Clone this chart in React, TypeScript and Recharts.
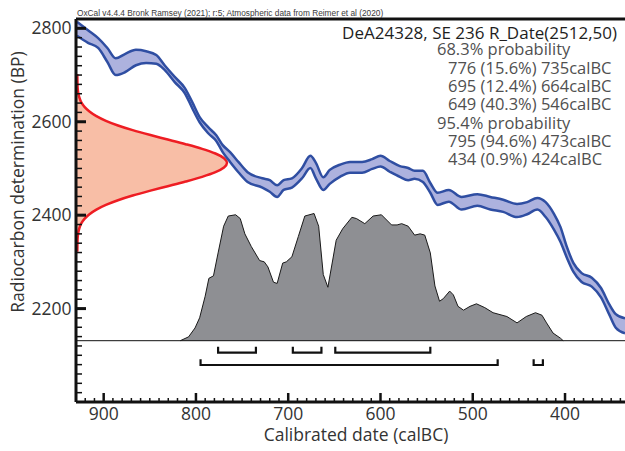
import React from 'react';
import { ComposedChart, Area, Line, XAxis, YAxis, ReferenceLine } from 'recharts';

// ---------- data ----------
// Calibration curve (IntCal20 band), calBC year vs upper / lower BP edge
const calYears = [929, 917, 906, 896, 887, 877, 865, 854, 843, 834, 823, 812, 804, 796, 787, 778, 771, 763, 754, 744, 728, 720, 712, 705, 696, 685, 676, 670, 662, 655, 644, 633, 620, 609, 600, 590, 579, 570, 563, 554, 546, 538, 526, 512, 495, 481, 467, 452, 441, 430, 421, 412, 405, 398, 391, 382, 371, 361, 352, 345, 335];
const curveUpper = [2814, 2796, 2779, 2758, 2736, 2745, 2754, 2751, 2743, 2721, 2696, 2672, 2642, 2610, 2589, 2571, 2550, 2535, 2514, 2492, 2479, 2475, 2464, 2475, 2479, 2501, 2527, 2512, 2481, 2497, 2508, 2514, 2514, 2520, 2527, 2516, 2505, 2501, 2495, 2495, 2469, 2448, 2454, 2439, 2445, 2439, 2433, 2424, 2428, 2437, 2428, 2403, 2375, 2332, 2298, 2276, 2266, 2244, 2209, 2188, 2179];
const curveLower = [2784, 2769, 2758, 2728, 2700, 2706, 2721, 2726, 2724, 2711, 2685, 2661, 2629, 2599, 2576, 2559, 2535, 2514, 2492, 2471, 2459, 2450, 2439, 2454, 2459, 2479, 2501, 2479, 2454, 2467, 2482, 2491, 2491, 2499, 2504, 2493, 2482, 2475, 2478, 2471, 2448, 2422, 2429, 2412, 2420, 2412, 2407, 2396, 2402, 2412, 2396, 2369, 2343, 2309, 2279, 2257, 2247, 2224, 2187, 2159, 2147];

// Calibrated (posterior) probability, relative to max
const postYears = [817, 808, 801, 796, 790, 786, 781, 776, 770, 765, 757, 752, 747, 740, 731, 726, 722, 716, 712, 706, 702, 696, 689, 682, 672, 667, 662, 657, 648, 641, 631, 626, 617, 608, 599, 588, 582, 577, 570, 563, 557, 552, 546, 541, 536, 532, 525, 521, 516, 510, 503, 496, 487, 478, 463, 452, 442, 432, 425, 420, 413, 405, 402];
const postProb = [0, 0.03, 0.10, 0.18, 0.35, 0.49, 0.51, 0.69, 0.90, 0.98, 0.99, 0.96, 0.84, 0.74, 0.63, 0.62, 0.58, 0.46, 0.45, 0.61, 0.62, 0.66, 0.82, 0.98, 1.00, 0.90, 0.52, 0.42, 0.79, 0.88, 0.97, 0.96, 0.92, 0.98, 0.99, 0.91, 0.91, 0.92, 0.90, 0.83, 0.84, 0.83, 0.69, 0.43, 0.31, 0.33, 0.39, 0.36, 0.27, 0.24, 0.27, 0.29, 0.26, 0.22, 0.19, 0.14, 0.19, 0.22, 0.20, 0.14, 0.06, 0.02, 0];

// Radiocarbon determination distribution (drawn along the BP axis), BP vs calBC edge
const rdBP = [2322, 2332, 2342, 2352, 2362, 2372, 2382, 2392, 2402, 2412, 2422, 2432, 2442, 2452, 2462, 2472, 2482, 2492, 2502, 2512, 2522, 2532, 2542, 2552, 2562, 2572, 2582, 2592, 2602, 2612, 2622, 2632, 2642, 2652, 2662, 2672, 2682, 2692, 2702];
const rdYear = [928.6, 928.5, 928.4, 928.2, 927.6, 926.4, 924.4, 920.8, 915.4, 907.9, 897.6, 884.5, 868.6, 850.3, 830.6, 811.2, 793.3, 778.9, 769.6, 766.3, 769.6, 778.9, 793.3, 811.2, 830.6, 850.3, 868.6, 884.5, 897.6, 907.9, 915.4, 920.8, 924.4, 926.4, 927.6, 928.2, 928.4, 928.5, 928.6];

// Calibrated ranges
const range68: [number, number][] = [[776, 735], [695, 664], [649, 546]];
const range95: [number, number][] = [[795, 473], [434, 424]];

// Axis ticks
const xMajorTicks = [900, 800, 700, 600, 500, 400];
const yMajorTicks = [2200, 2400, 2600, 2800];
const xTicks = Array.from({ length: 59 }, (_, i) => 920 - i * 10);
const yTicks = Array.from({ length: 40 }, (_, i) => 2020 + i * 20);

// Texts
const oxcalCaption = 'OxCal v4.4.4 Bronk Ramsey (2021); r:5; Atmospheric data from Reimer et al (2020)';
const sampleTitle = 'DeA24328, SE 236 R_Date(2512,50)';
const probLines = [
  { text: '68.3% probability', indent: false },
  { text: '776 (15.6%) 735calBC', indent: true },
  { text: '695 (12.4%) 664calBC', indent: true },
  { text: '649 (40.3%) 546calBC', indent: true },
  { text: '95.4% probability', indent: false },
  { text: '795 (94.6%) 473calBC', indent: true },
  { text: '434 (0.9%) 424calBC', indent: true },
];
const xTitle = 'Calibrated date (calBC)';
const yTitle = 'Radiocarbon determination (BP)';

// ---------- layout ----------
const W = 625;
const H = 451;
const X_DOMAIN: [number, number] = [335, 930];
const BP_DOMAIN: [number, number] = [2000, 2820];
const P_DOMAIN: [number, number] = [-0.482, 2.529];
const FONT = '"Open Sans", "Noto Sans", sans-serif';

const renderXTick = (props: any) => {
  const { x, y, payload } = props;
  const v = payload.value;
  const major = xMajorTicks.includes(v);
  return (
    <g>
      <line x1={x} x2={x} y1={y} y2={y - (major ? 9 : 4)} stroke="#111" strokeWidth={major ? 2.5 : 1.5} />
      {major && (
        <text x={x} y={y + 18} textAnchor="middle" fontSize={17.5} fontFamily={FONT} fill="#333">
          {v}
        </text>
      )}
    </g>
  );
};

const renderYTick = (props: any) => {
  const { x, y, payload } = props;
  const v = payload.value;
  const major = yMajorTicks.includes(v);
  return (
    <g>
      <line x1={x} x2={x + (major ? 10 : 6)} y1={y} y2={y} stroke="#111" strokeWidth={major ? 3 : 1.5} />
      {major && (
        <text x={x - 4.5} y={y} dy="0.35em" textAnchor="end" fontSize={17.5} fontFamily={FONT} fill="#333">
          {v}
        </text>
      )}
    </g>
  );
};

export default function App() {
  const curveData = calYears.map((yr, i) => ({
    yr,
    hi: curveUpper[i],
    lo: curveLower[i],
    band: [curveLower[i], curveUpper[i]],
  }));
  const postData = postYears.map((yr, i) => ({ yr, p: postProb[i] }));
  const rdData = rdBP.map((bp, i) => ({ bp, yr: rdYear[i] }));

  const bracket = (r: [number, number], bar: number, top: number) => [
    { yr: r[0], v: top },
    { yr: r[0], v: bar },
    { yr: r[1], v: bar },
    { yr: r[1], v: top },
  ];
  const brackets = [
    ...range68.map((r) => bracket(r, -0.094, -0.047)),
    ...range95.map((r) => bracket(r, -0.191, -0.146)),
  ];

  return (
    <div style={{ position: 'absolute', left: 0, top: 0, width: W, height: H, background: '#fff' }}>
      {/* radiocarbon determination distribution on the BP axis */}
      <div style={{ position: 'absolute', left: 0, top: 0 }}>
        <ComposedChart layout="vertical" width={W} height={H} data={rdData} margin={{ top: 19, right: 0, bottom: 49, left: 76 }}>
          <XAxis type="number" domain={X_DOMAIN} reversed hide allowDataOverflow />
          <YAxis type="number" dataKey="bp" domain={BP_DOMAIN} reversed hide allowDataOverflow />
          <Area
            dataKey="yr"
            type="monotone"
            baseValue={930}
            fill="#f8bea6"
            fillOpacity={1}
            stroke="#ee1d23"
            strokeWidth={2.5}
            isAnimationActive={false}
          />
        </ComposedChart>
      </div>

      {/* main chart */}
      <div style={{ position: 'absolute', left: 0, top: 0 }}>
        <ComposedChart width={W} height={H} data={curveData} margin={{ top: 19, right: 0, bottom: 0, left: 0 }}>
          <XAxis
            dataKey="yr"
            type="number"
            domain={X_DOMAIN}
            reversed
            allowDataOverflow
            ticks={xTicks}
            interval={0}
            height={49}
            tickLine={false}
            tickSize={0}
            tickMargin={0}
            axisLine={{ stroke: '#111', strokeWidth: 3 }}
            tick={renderXTick}
          />
          <YAxis
            yAxisId="bp"
            type="number"
            domain={BP_DOMAIN}
            allowDataOverflow
            ticks={yTicks}
            interval={0}
            width={76}
            tickLine={false}
            tickSize={0}
            tickMargin={0}
            axisLine={{ stroke: '#111', strokeWidth: 3 }}
            tick={renderYTick}
          />
          <YAxis yAxisId="p" type="number" domain={P_DOMAIN} allowDataOverflow hide />
          <ReferenceLine yAxisId="bp" y={2820} stroke="#111" strokeWidth={3} />
          <ReferenceLine yAxisId="p" y={0} stroke="#111" strokeWidth={1} />
          <Area
            yAxisId="p"
            data={postData}
            dataKey="p"
            type="linear"
            baseValue={0}
            fill="#8e8f93"
            fillOpacity={1}
            stroke="#1a1a1a"
            strokeWidth={1}
            isAnimationActive={false}
          />
          <Area
            yAxisId="bp"
            dataKey="band"
            type="monotone"
            fill="#adb2de"
            fillOpacity={1}
            stroke="none"
            isAnimationActive={false}
          />
          <Line yAxisId="bp" dataKey="hi" type="monotone" stroke="#2f4ea2" strokeWidth={2.5} dot={false} isAnimationActive={false} />
          <Line yAxisId="bp" dataKey="lo" type="monotone" stroke="#2f4ea2" strokeWidth={2.5} dot={false} isAnimationActive={false} />
          {brackets.map((b, i) => (
            <Line
              key={i}
              yAxisId="p"
              data={b}
              dataKey="v"
              type="linear"
              stroke="#111"
              strokeWidth={2.2}
              dot={false}
              isAnimationActive={false}
            />
          ))}
        </ComposedChart>
      </div>

      {/* texts */}
      <svg width={W} height={H} style={{ position: 'absolute', left: 0, top: 0, pointerEvents: 'none' }}>
        <text x={77} y={16} fontSize={8.3} fontFamily='"Liberation Sans", Arial, sans-serif' fill="#3a3a3a">
          {oxcalCaption}
        </text>
        <text x={617} y={39} textAnchor="end" fontSize={17} fontFamily={FONT} fill="#1e1e1e">
          {sampleTitle}
        </text>
        {probLines.map((l, i) => (
          <text key={i} x={l.indent ? 448 : 437} y={55.3 + i * 18.35} fontSize={16.5} fontFamily={FONT} fill="#505050">
            {l.text}
          </text>
        ))}
        <text transform="rotate(-90)" x={-182} y={24} textAnchor="middle" fontSize={17.5} fontFamily={FONT} fill="#333">
          {yTitle}
        </text>
        <text x={356} y={441} textAnchor="middle" fontSize={17.5} fontFamily={FONT} fill="#333">
          {xTitle}
        </text>
      </svg>
    </div>
  );
}
